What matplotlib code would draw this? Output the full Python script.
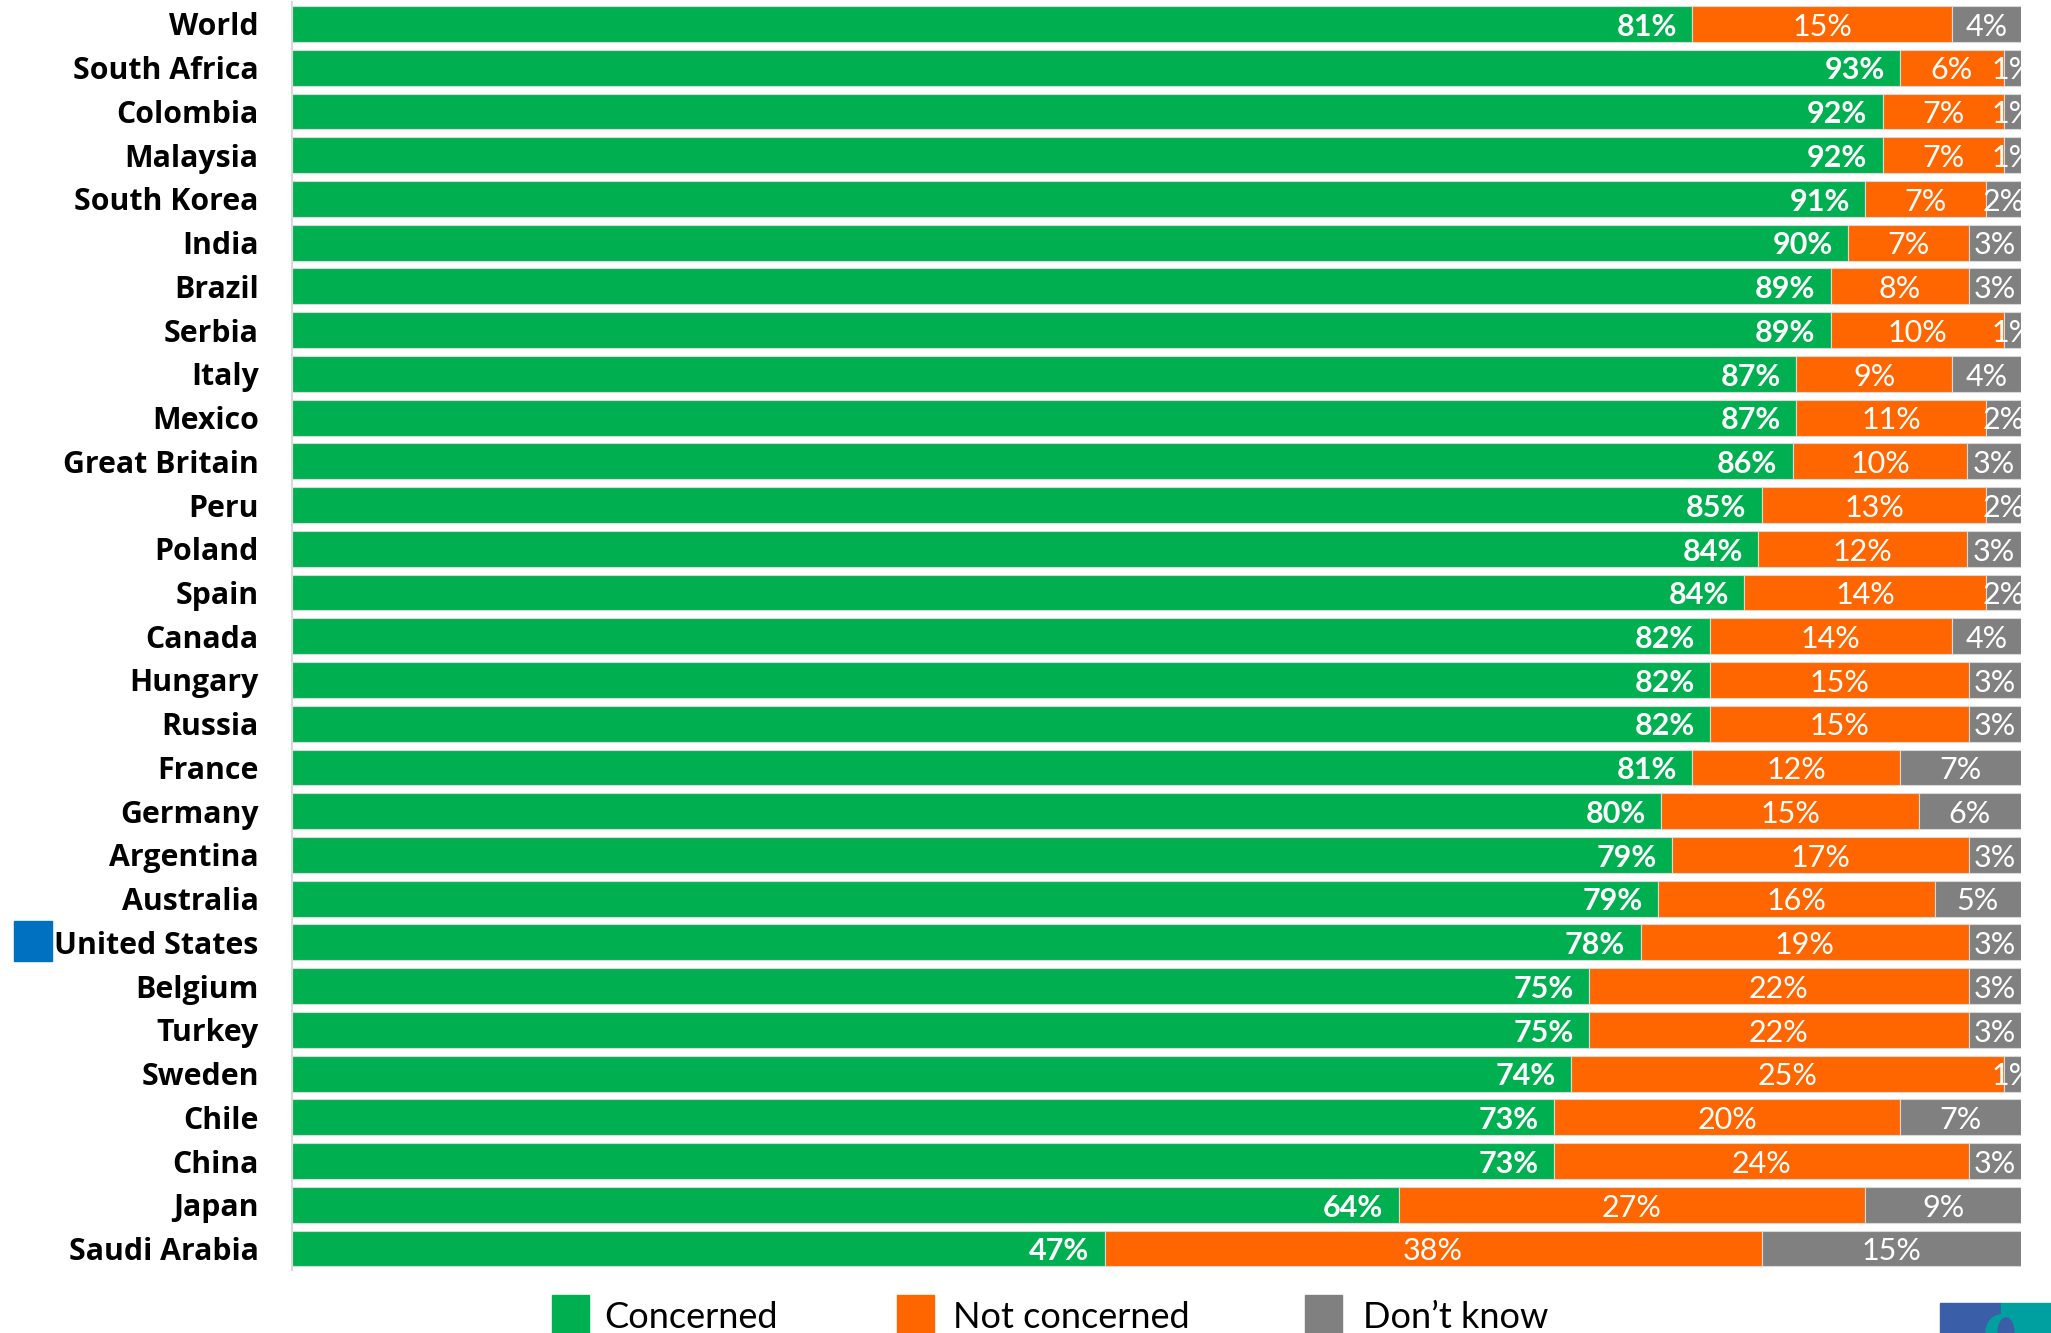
import matplotlib
matplotlib.use("Agg")
import matplotlib.pyplot as plt
from matplotlib.patches import Rectangle, Ellipse

countries = ["World", "South Africa", "Colombia", "Malaysia", "South Korea", "India",
             "Brazil", "Serbia", "Italy", "Mexico", "Great Britain", "Peru", "Poland",
             "Spain", "Canada", "Hungary", "Russia", "France", "Germany", "Argentina",
             "Australia", "United States", "Belgium", "Turkey", "Sweden", "Chile",
             "China", "Japan", "Saudi Arabia"]

concerned = [81, 93, 92, 92, 91, 90, 89, 89, 87, 87, 86.8, 85, 84.8, 84, 82, 82, 82, 81,
             79.2, 79.8, 79, 78, 75, 75, 74, 73, 73, 64, 47]
not_concerned = [15, 6, 7, 7, 7, 7, 8, 10, 9, 11, 10.1, 13, 12.1, 14, 14, 15, 15, 12,
                 14.9, 17.2, 16, 19, 22, 22, 25, 20, 24, 27, 38]
dont_know = [4, 1, 1, 1, 2, 3, 3, 1, 4, 2, 3.1, 2, 3.1, 2, 4, 3, 3, 7,
             5.9, 3.0, 5, 3, 3, 3, 1, 7, 3, 9, 15]

concerned_lbl = [81, 93, 92, 92, 91, 90, 89, 89, 87, 87, 86, 85, 84, 84, 82, 82, 82, 81,
                 80, 79, 79, 78, 75, 75, 74, 73, 73, 64, 47]
not_concerned_lbl = [15, 6, 7, 7, 7, 7, 8, 10, 9, 11, 10, 13, 12, 14, 14, 15, 15, 12,
                     15, 17, 16, 19, 22, 22, 25, 20, 24, 27, 38]
dont_know_lbl = [4, 1, 1, 1, 2, 3, 3, 1, 4, 2, 3, 2, 3, 2, 4, 3, 3, 7,
                 6, 3, 5, 3, 3, 3, 1, 7, 3, 9, 15]

legend_labels = ["Concerned", "Not concerned", "Don\u2019t know"]

GREEN = "#00B050"
ORANGE = "#FF6600"
GRAY = "#808080"
EDGE = "#D9D9D9"

plt.rcParams['font.family'] = ['Lato', 'DejaVu Sans']

W, H = 2051, 1333
fig = plt.figure(figsize=(W / 100, H / 100), dpi=100)
ax = fig.add_axes([292 / W, 1 - 1270.4 / H, (2021 - 292) / W, (1270.4 - 2.1) / H])

y = list(range(len(countries)))
bh = 0.82
ax.barh(y, concerned, height=bh, color=GREEN, edgecolor=EDGE, linewidth=0.8)
left2 = [c for c in concerned]
ax.barh(y, not_concerned, left=left2, height=bh, color=ORANGE, edgecolor=EDGE, linewidth=0.8)
left3 = [c + n for c, n in zip(concerned, not_concerned)]
ax.barh(y, dont_know, left=left3, height=bh, color=GRAY, edgecolor=EDGE, linewidth=0.8)

ax.set_xlim(0, 100)
ax.set_ylim(len(countries) - 0.5, -0.5)
ax.set_yticks(y)
ax.set_yticklabels(countries, fontsize=21.8, fontweight='bold', color='black',
                   family=['Open Sans', 'DejaVu Sans'])
ax.tick_params(axis='y', length=0, pad=24)
ax.set_xticks([])
for s in ['top', 'right', 'bottom']:
    ax.spines[s].set_visible(False)
ax.spines['left'].set_color(EDGE)
ax.spines['left'].set_linewidth(1.5)

for i in y:
    c, n, d = concerned[i], not_concerned[i], dont_know[i]
    ax.annotate(f"{concerned_lbl[i]}%", xy=(c, i), xytext=(-11, -2),
                textcoords='offset points', ha='right', va='center',
                color='white', fontsize=22, fontweight='bold')
    ax.annotate(f"{not_concerned_lbl[i]}%", xy=(c + n / 2, i), xytext=(0, -2),
                textcoords='offset points', ha='center', va='center',
                color='white', fontsize=22)
    t = ax.annotate(f"{dont_know_lbl[i]}%", xy=(c + n + d / 2, i), xytext=(0, -2),
                    textcoords='offset points', ha='center', va='center',
                    color='white', fontsize=22, annotation_clip=False)
    t.set_clip_on(True)
    t.set_clip_box(ax.bbox)

# Legend (manual, partly cut at bottom like the reference)
leg_x = [552, 897, 1305]
leg_tx = [604, 953, 1363]
for px, tx, col, lab in zip(leg_x, leg_tx, [GREEN, ORANGE, GRAY], legend_labels):
    fig.patches.append(Rectangle((px / W, -0.01), 37 / W, (1333 - 1295) / H + 0.01,
                                 transform=fig.transFigure, color=col))
    fig.text(tx / W, 15 / H, lab, fontsize=26, ha='left', va='center', color='black')

# Highlight marker next to United States
fig.patches.append(Rectangle((14 / W, (1333 - 961) / H), 38 / W, 40 / H,
                             transform=fig.transFigure, color="#0070C0"))

# Partial logo bottom-right
fig.patches.append(Rectangle((1940 / W, 0), 61 / W, 30 / H,
                             transform=fig.transFigure, color="#3A5FA8"))
fig.patches.append(Rectangle((2001 / W, 0), 50 / W, 30 / H,
                             transform=fig.transFigure, color="#00A0A0"))
fig.patches.append(Ellipse((2001 / W, 0), 30 / W, 36 / H,
                           transform=fig.transFigure, color="#00A0A0"))
fig.patches.append(Ellipse((2006 / W, 0), 16 / W, 30 / H,
                           transform=fig.transFigure, color="#3A5FA8"))

fig.savefig("out.png", dpi=100)
